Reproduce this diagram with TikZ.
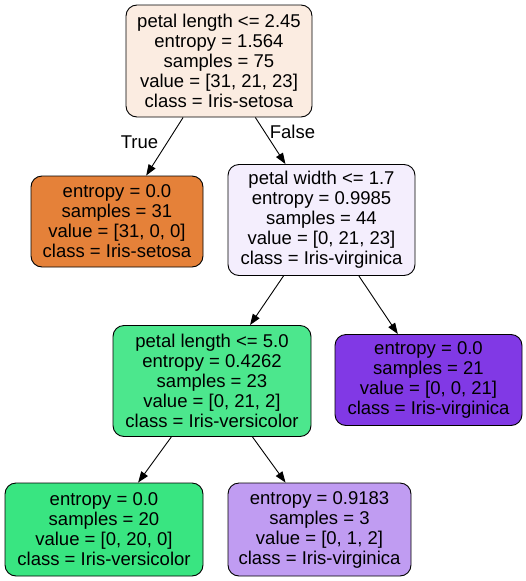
\documentclass[tikz,border=0pt]{standalone}
\usepackage{fontspec}
\setmainfont{Liberation Sans}
\usetikzlibrary{arrows.meta}
\definecolor{cRoot}{RGB}{251,236,225}
\definecolor{cSetosa}{RGB}{229,129,57}
\definecolor{cNodeTwo}{RGB}{244,238,253}
\definecolor{cNodeThree}{RGB}{76,231,141}
\definecolor{cVirg}{RGB}{129,57,229}
\definecolor{cVers}{RGB}{57,229,129}
\definecolor{cMix}{RGB}{192,156,242}
\tikzset{
  treebox/.style={draw=black, line width=0.9pt, rounded corners=11pt, align=center, inner sep=0pt,
    font=\fontsize{18.5}{20}\selectfont, text=black},
  edge/.style={draw=black, line width=0.9pt, -{Triangle[length=11pt,width=8pt]}},
  elabel/.style={font=\fontsize{18.5}{20}\selectfont, text=black, inner sep=0pt}
}
\begin{document}
\begin{tikzpicture}[x=1pt,y=-1pt]
\useasboundingbox (0,0) rectangle (525,581);
\node[treebox, fill=cRoot, minimum width=186pt, minimum height=112pt] (root) at (219,61)
  {petal length <= 2.45\\entropy = 1.564\\samples = 75\\value = [31, 21, 23]\\class = Iris-setosa};
\node[treebox, fill=cSetosa, minimum width=172pt, minimum height=91pt] (setosa) at (117,221.5)
  {entropy = 0.0\\samples = 31\\value = [31, 0, 0]\\class = Iris-setosa};
\node[treebox, fill=cNodeTwo, minimum width=187pt, minimum height=111pt] (n2) at (321.5,220)
  {petal width <= 1.7\\entropy = 0.9985\\samples = 44\\value = [0, 21, 23]\\class = Iris-virginica};
\node[treebox, fill=cNodeThree, minimum width=198pt, minimum height=111pt] (n3) at (212,381)
  {petal length <= 5.0\\entropy = 0.4262\\samples = 23\\value = [0, 21, 2]\\class = Iris-versicolor};
\node[treebox, fill=cVirg, minimum width=187pt, minimum height=91pt] (virg) at (428.5,380)
  {entropy = 0.0\\samples = 21\\value = [0, 0, 21]\\class = Iris-virginica};
\node[treebox, fill=cVers, minimum width=198pt, minimum height=93pt] (vers) at (104,529.5)
  {entropy = 0.0\\samples = 20\\value = [0, 20, 0]\\class = Iris-versicolor};
\node[treebox, fill=cMix, minimum width=183pt, minimum height=93pt] (mix) at (319.5,529.5)
  {entropy = 0.9183\\samples = 3\\value = [0, 1, 2]\\class = Iris-virginica};
\draw[edge] (root) -- (setosa);
\draw[edge] (root) -- (n2);
\draw[edge] (n2) -- (n3);
\draw[edge] (n2) -- (virg);
\draw[edge] (n3) -- (vers);
\draw[edge] (n3) -- (mix);
\node[elabel] (lTrue) at (139.5,142) {True};
\node[elabel] (lFalse) at (292.5,132) {False};
\end{tikzpicture}
\end{document}
